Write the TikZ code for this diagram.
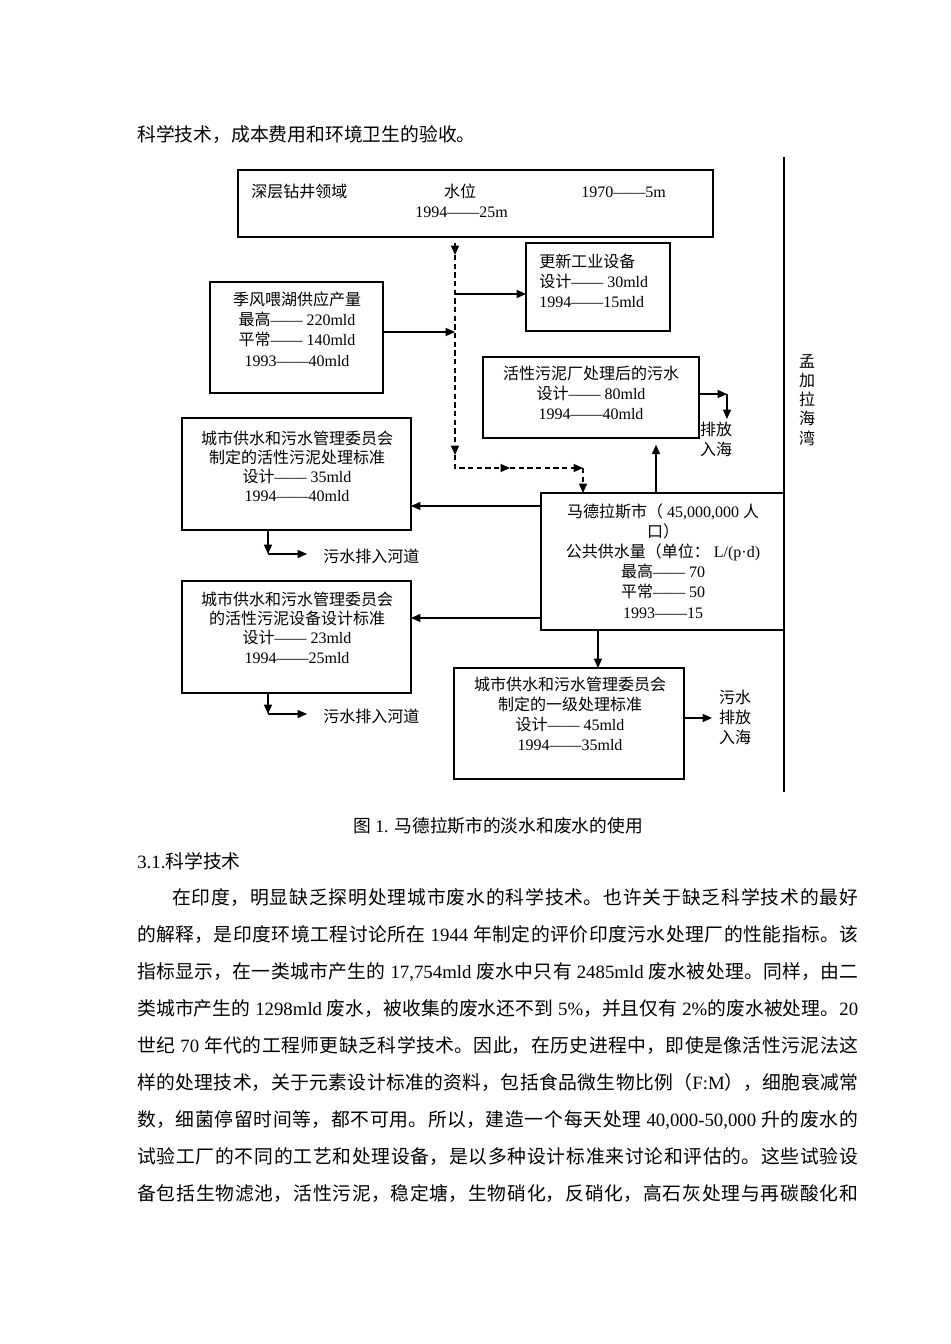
\documentclass[tikz,border=0pt]{standalone}
\usepackage{fontspec}
\setmainfont{Liberation Serif}
\newfontfamily\cjkfont{Noto Sans CJK SC}
\usetikzlibrary{arrows.meta}
\XeTeXinterchartokenstate=1
\newXeTeXintercharclass\cjkcls
\count255="3000
\loop\ifnum\count255<"3040 \XeTeXcharclass\count255=\cjkcls \advance\count255 by 1 \repeat
\count255="4E00
\loop\ifnum\count255<"A000 \XeTeXcharclass\count255=\cjkcls \advance\count255 by 1 \repeat
\count255="FF00
\loop\ifnum\count255<"FFF0 \XeTeXcharclass\count255=\cjkcls \advance\count255 by 1 \repeat
\XeTeXinterchartoks 0 \cjkcls = {\cjkfont}
\XeTeXinterchartoks 4095 \cjkcls = {\cjkfont}
\XeTeXinterchartoks \cjkcls 0 = {\rmfamily}
\XeTeXinterchartoks \cjkcls 4095 = {\rmfamily}
\XeTeXlinebreaklocale "zh"
\XeTeXlinebreakskip=0pt plus 3pt
\newcommand\jline[2]{\parbox[b]{#1}{\tolerance=10000\parfillskip=0pt\relax\noindent #2}}
\tikzset{
  box/.style={draw, line width=1pt, inner sep=0pt, outer sep=0pt},
  arr/.style={line width=1pt, -{Triangle[length=7pt,width=6pt]}},
  dline/.style={line width=1pt, dash pattern=on 4pt off 2.5pt},
  dtext/.style={font=\fontsize{12}{14.85}\selectfont, inner sep=0pt, align=center, anchor=base},
  btext/.style={font=\fontsize{14.1}{16}\selectfont, inner sep=0pt, anchor=base west},
}
\newcommand\mkbox[5]{\node[box, minimum width={(#4-#2)*0.75pt}, minimum height={(#5-#3)*0.75pt}] (#1) at ({(#2+#4)/2},{(#3+#5)/2}) {};}
\begin{document}
\begin{tikzpicture}[x=0.75pt,y=-0.75pt]
\fill[white] (0,0) rectangle (950,1344);
\useasboundingbox (0,0) rectangle (950,1344);

% top text line
\node[btext] (l0) at (137,142) {科学技术，成本费用和环境卫生的验收。};

% boxes
\mkbox{top}{238}{170}{713}{237}
\mkbox{upd}{526}{243}{670}{331}
\mkbox{mons}{210}{282}{383}{393}
\mkbox{sludge}{483}{357}{699}{438}
\mkbox{boxA}{182}{418}{411}{530}
\mkbox{madras}{541}{493}{784}{630}
\mkbox{boxB}{182}{581}{411}{693}
\mkbox{boxC}{454}{668}{684}{779}

% bay line
\coordinate (bayT) at (784,157);
\coordinate (bayB) at (784,792);
\draw[line width=1pt] (bayT) -- (bayB);

% texts in boxes (multi-line nodes: base = baseline of last line)
\node[dtext, anchor=base west] (t1) at (251,198) {深层钻井领域};
\node[dtext] (t2) at (460,198) {水位};
\node[dtext, anchor=base west] (t3) at (581,198) {1970——5m};
\node[dtext, anchor=base west] (t4) at (415,218) {1994——25m};
\node[dtext, anchor=base west, align=left] (tu) at (539,307) {更新工业设备\\设计—— 30mld\\1994——15mld};
\node[dtext, font=\fontsize{12}{15.2}\selectfont] (tm) at (297,366) {季风喂湖供应产量\\最高—— 220mld\\平常—— 140mld\\1993——40mld};
\node[dtext] (ts) at (591,419) {活性污泥厂处理后的污水\\设计—— 80mld\\1994——40mld};
\node[dtext, font=\fontsize{12}{15}\selectfont] (ts2) at (716,455) {排放\\入海};
\node[dtext, font=\fontsize{12}{14.25}\selectfont] (tA) at (297,501) {城市供水和污水管理委员会\\制定的活性污泥处理标准\\设计—— 35mld\\1994——40mld};
\node[dtext, font=\fontsize{12}{14.5}\selectfont] (tB) at (297,663) {城市供水和污水管理委员会\\的活性污泥设备设计标准\\设计—— 23mld\\1994——25mld};
\node[dtext, font=\fontsize{12}{15.15}\selectfont] (tmd) at (663,618) {马德拉斯市（ 45,000,000 人\\口）\\公共供水量（单位： L/(p·d)\\最高—— 70\\平常—— 50\\1993——15};
\node[dtext] (tC) at (570,750) {城市供水和污水管理委员会\\制定的一级处理标准\\设计—— 45mld\\1994——35mld};
\node[dtext, font=\fontsize{12}{15}\selectfont] (tC2) at (735,743) {污水\\排放\\入海};
\node[dtext, anchor=base west] (rv1) at (323,562) {污水排入河道};
\node[dtext, anchor=base west] (rv2) at (323,722) {污水排入河道};
\node[dtext, font=\fontsize{12}{14.4}\selectfont] (bay) at (807,444) {孟\\加\\拉\\海\\湾};

% dashed path
\coordinate (dA) at (455,243);
\coordinate (dB) at (455,255);
\coordinate (dC) at (455,455);
\coordinate (dD) at (455,468);
\coordinate (dE) at (510,468);
\coordinate (dF) at (583,468);
\draw[arr, dline] (dA) -- (dB);
\draw[arr, dline] (dB) -- (dC);
\draw[arr, dline] (dC) -- (dD) -- (dE);
\draw[arr, dline] (dE) -- (dF);
\draw[arr, dline] (dF) -- (madras.north -| dF);

% solid connectors
\coordinate (ym) at (0,332);
\coordinate (yu) at (0,294);
\draw[arr] (mons.east |- ym) -- (dB |- ym);
\draw[arr] (dB |- yu) -- (upd.west |- yu);
\coordinate (s1) at (727,394);
\coordinate (s2) at (727,419);
\draw[arr] (sludge.east |- s1) -- (s1);
\draw[arr] (s1) -- (s2);
\coordinate (u1) at (656,0);
\draw[arr, shorten >=5pt] (madras.north -| u1) -- (sludge.south -| u1);
\coordinate (yA) at (0,506);
\coordinate (yB) at (0,618);
\draw[arr] (madras.west |- yA) -- (boxA.east |- yA);
\draw[arr] (madras.west |- yB) -- (boxB.east |- yB);
\coordinate (xC) at (598,0);
\draw[arr] (madras.south -| xC) -- (boxC.north -| xC);
\coordinate (c1) at (712,718);
\draw[arr] (boxC.east |- c1) -- (c1);
\coordinate (rA) at (268,554);
\coordinate (rA2) at (307,554);
\draw[arr] (boxA.south -| rA) -- (rA);
\draw[arr] (rA) -- (rA2);
\coordinate (rB) at (268,714);
\coordinate (rB2) at (307,714);
\draw[arr] (boxB.south -| rB) -- (rB);
\draw[arr] (rB) -- (rB2);

% caption and heading
\node[font=\fontsize{13.3}{16}\selectfont, inner sep=0pt, anchor=base] (cap) at (498,832) {图 1. 马德拉斯市的淡水和废水的使用};
\node[btext] (h31) at (137,868) {3.1.科学技术};

% paragraph
\node[btext] (p1) at (172,904) {\jline{514.5pt}{在印度，明显缺乏探明处理城市废水的科学技术。也许关于缺乏科学技术的最好}};
\node[btext] (p2) at (137,941) {\jline{540.75pt}{的解释，是印度环境工程讨论所在 1944 年制定的评价印度污水处理厂的性能指标。该}};
\node[btext] (p3) at (137,978) {\jline{540.75pt}{指标显示，在一类城市产生的 17,754mld 废水中只有 2485mld 废水被处理。同样，由二}};
\node[btext] (p4) at (137,1015) {\jline{540.75pt}{类城市产生的 1298mld 废水，被收集的废水还不到 5\%，并且仅有 2\%的废水被处理。20}};
\node[btext] (p5) at (137,1052) {\jline{540.75pt}{世纪 70 年代的工程师更缺乏科学技术。因此，在历史进程中，即使是像活性污泥法这}};
\node[btext] (p6) at (137,1089) {\jline{540.75pt}{样的处理技术，关于元素设计标准的资料，包括食品微生物比例（F:M），细胞衰减常}};
\node[btext] (p7) at (137,1126) {\jline{540.75pt}{数，细菌停留时间等，都不可用。所以，建造一个每天处理 40,000-50,000 升的废水的}};
\node[btext] (p8) at (137,1163) {\jline{540.75pt}{试验工厂的不同的工艺和处理设备，是以多种设计标准来讨论和评估的。这些试验设}};
\node[btext] (p9) at (137,1200) {\jline{540.75pt}{备包括生物滤池，活性污泥，稳定塘，生物硝化，反硝化，高石灰处理与再碳酸化和}};
\end{tikzpicture}
\end{document}
